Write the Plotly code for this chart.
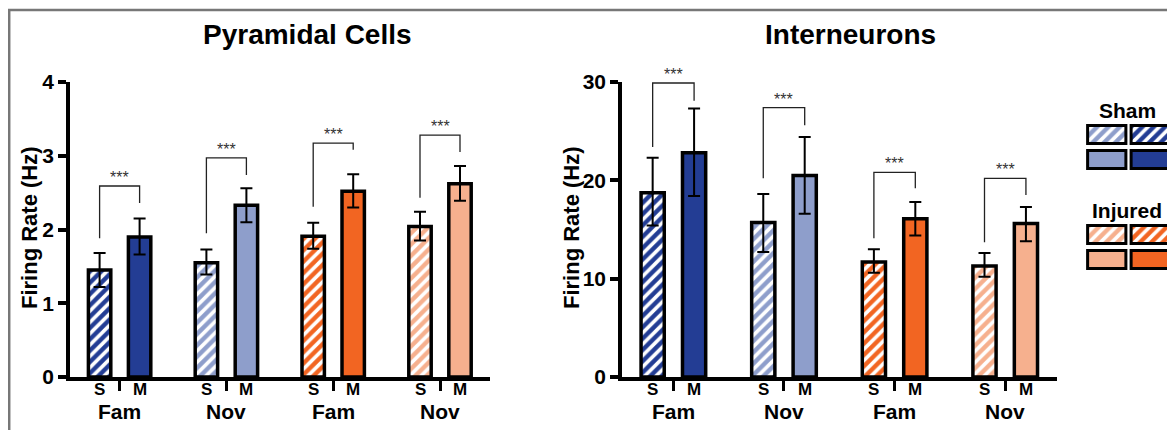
import plotly.graph_objects as go

W, H = 1175, 430

# ---------------- data ----------------
groups = ["Fam", "Nov", "Fam", "Nov"]
conds = ["S", "M"]
colors = ["#233d94", "#233d94", "#8e9ecb", "#8e9ecb",
          "#f26522", "#f26522", "#f6b08e", "#f6b08e"]
hatch = ["/", "", "/", "", "/", "", "/", ""]

pyr_mean = [1.45, 1.90, 1.55, 2.33, 1.91, 2.52, 2.04, 2.62]
pyr_hi = [1.68, 2.15, 1.73, 2.56, 2.09, 2.75, 2.24, 2.86]
pyr_lo = [1.22, 1.66, 1.39, 2.10, 1.74, 2.30, 1.85, 2.39]
# bracket: [top, left leg end, right leg end]
pyr_brackets = [[2.59, 1.88, 2.36], [2.97, 1.95, 2.74], [3.17, 2.31, 3.08], [3.28, 2.43, 3.05]]

int_mean = [18.75, 22.8, 15.7, 20.5, 11.7, 16.1, 11.3, 15.6]
int_hi = [22.3, 27.3, 18.6, 24.4, 13.0, 17.8, 12.6, 17.3]
int_lo = [15.4, 18.4, 12.7, 16.6, 10.6, 14.4, 10.2, 13.8]
int_brackets = [[29.9, 23.4, 28.1], [27.4, 20.2, 25.6], [20.8, 14.1, 19.2], [20.2, 13.7, 18.5]]

pyr_ticks = [0, 1, 2, 3, 4]
int_ticks = [0, 10, 20, 30]

legend_groups = ["Sham", "Injured"]
legend_light = ["#8e9ecb", "#f6b08e"]
legend_dark = ["#233d94", "#f26522"]

# ---------------- layout helpers ----------------
GAP = 2.67
xpos = [g * GAP + j for g in range(len(groups)) for j in range(len(conds))]
mids = [g * GAP + 0.5 for g in range(len(groups))]
labels = [c for _ in groups for c in conds]

FONT = "Liberation Sans, Arial, sans-serif"
OFF = 8  # page body margin offset


def px(x):
    return (x - OFF) / W


def py(y):
    return 1 - (y - OFF) / H


def pattern(shape):
    return dict(shape=shape, fillmode="overlay", fgcolor="white", fgopacity=1,
                size=8, solidity=0.45)


def bold(size, color="black"):
    return dict(family=FONT, size=size, color=color, weight="bold")


fig = go.Figure()

panels = [
    dict(mean=pyr_mean, hi=pyr_hi, lo=pyr_lo, br=pyr_brackets, ticks=pyr_ticks,
         xa="x", ya="y", dom=(70, 490), title="Pyramidal Cells", tx=307, ytx=29),
    dict(mean=int_mean, hi=int_hi, lo=int_lo, br=int_brackets, ticks=int_ticks,
         xa="x2", ya="y2", dom=(622, 1057), title="Interneurons", tx=850, ytx=571),
]

for p in panels:
    for i in range(len(xpos)):
        fig.add_trace(go.Bar(
            x=[xpos[i]], y=[p["mean"][i]], width=0.56, xaxis=p["xa"], yaxis=p["ya"],
            marker=dict(color=colors[i], line=dict(color="black", width=3.5),
                        pattern=pattern(hatch[i])),
            error_y=dict(type="data", symmetric=False,
                         array=[p["hi"][i] - p["mean"][i]],
                         arrayminus=[p["mean"][i] - p["lo"][i]],
                         color="black", thickness=2, width=6),
            showlegend=False, hoverinfo="skip",
        ))
    for g, (top, l_end, r_end) in enumerate(p["br"]):
        xl, xr = xpos[2 * g], xpos[2 * g + 1]
        fig.add_trace(go.Scatter(
            x=[xl, xl, xr, xr], y=[l_end, top, top, r_end], mode="lines",
            line=dict(color="#222", width=1.3), xaxis=p["xa"], yaxis=p["ya"],
            showlegend=False, hoverinfo="skip", cliponaxis=False,
        ))
        fig.add_annotation(x=(xl + xr) / 2, y=top, xref=p["xa"], yref=p["ya"],
                           text="***", showarrow=False, xanchor="center",
                           yanchor="bottom", yshift=-2,
                           font=dict(family=FONT, size=16, color="#333"))
    for i, lab in enumerate(labels):
        fig.add_annotation(x=xpos[i], y=py(389), xref=p["xa"], yref="paper",
                           text=lab, showarrow=False, xanchor="center", yanchor="middle",
                           font=bold(17))
    for g, name in enumerate(groups):
        fig.add_annotation(x=mids[g], y=py(411), xref=p["xa"], yref="paper",
                           text=name, showarrow=False, xanchor="center", yanchor="middle",
                           font=bold(21))
    fig.add_annotation(x=px(p["tx"]), y=py(34), xref="paper", yref="paper",
                       text=p["title"], showarrow=False, xanchor="center", yanchor="middle",
                       font=bold(28))
    fig.add_annotation(x=px(p["ytx"]), y=py(228), xref="paper", yref="paper",
                       text="Firing Rate (Hz)", showarrow=False, textangle=-90,
                       xanchor="center", yanchor="middle", font=bold(22))

ax_common = dict(showgrid=False, zeroline=False, showline=True, linecolor="black",
                 linewidth=3.5, automargin=False)
for i, p in enumerate(panels):
    sfx = "" if i == 0 else "2"
    fig.update_layout(**{
        "xaxis" + sfx: dict(
            **ax_common, domain=[px(p["dom"][0]), px(p["dom"][1])],
            range=[-0.74, 9.76], tickmode="array", tickvals=mids, ticks="outside",
            ticklen=10, tickwidth=3, tickcolor="black", showticklabels=False,
            anchor="y" + sfx,
        ),
        "yaxis" + sfx: dict(
            **ax_common, domain=[py(377), py(82)], range=[0, p["ticks"][-1]],
            tickmode="array", tickvals=p["ticks"], ticks="outside", ticklen=8,
            tickwidth=3.5, tickcolor="black", ticklabelstandoff=0,
            tickfont=bold(21),
            anchor="x" + sfx,
        ),
    })

# ---------------- custom legend ----------------
for k, name in enumerate(legend_groups):
    r0 = 4 * k
    for row, shape in [(r0, "/"), (r0 + 1, "")]:
        for col, c in enumerate([legend_light[k], legend_dark[k]]):
            fig.add_trace(go.Bar(
                x=[col], y=[0.72], base=[row - 0.36], width=0.88,
                xaxis="x3", yaxis="y3",
                marker=dict(color=c, line=dict(color="black", width=3),
                            pattern=pattern(shape)),
                showlegend=False, hoverinfo="skip",
            ))
    fig.add_annotation(x=px(1127), y=py(110 + 100 * k), xref="paper", yref="paper",
                       text=name, showarrow=False, xanchor="center", yanchor="middle",
                       font=bold(21))

fig.update_layout(
    xaxis3=dict(domain=[px(1085), px(1172)], range=[-0.5, 1.5], visible=False,
                anchor="y3", automargin=False),
    yaxis3=dict(domain=[py(272), py(122)], range=[5.5, -0.5], visible=False,
                anchor="x3", automargin=False),
)

# frame lines (kept just inside the drawable page area)
fig.add_shape(type="line", xref="paper", yref="paper", x0=px(9.2), x1=px(9.2), y0=0, y1=py(10),
              line=dict(color="#777", width=2.5))
fig.add_shape(type="line", xref="paper", yref="paper", x0=px(8), x1=1, y0=py(10), y1=py(10),
              line=dict(color="#777", width=2.5))

fig.update_layout(
    width=W, height=H, margin=dict(l=0, r=0, t=0, b=0, autoexpand=False),
    paper_bgcolor="white", plot_bgcolor="white", barmode="overlay",
    font=dict(family=FONT, color="black"),
)

fig.write_html("out.html")
